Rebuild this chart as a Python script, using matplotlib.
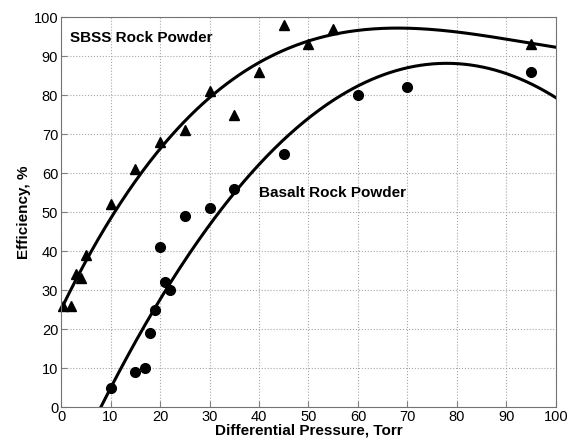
import numpy as np
import matplotlib
matplotlib.use("Agg")
from matplotlib import pyplot as plt

# SBSS rock powder (triangles)
sbss_p = [0.5, 2, 3, 4, 5, 10, 15, 20, 25, 30, 35, 40, 45, 50, 55, 95]
sbss_eff = [26, 26, 34, 33, 39, 52, 61, 68, 71, 81, 75, 86, 98, 93, 97, 93]

# Basalt rock powder (circles)
basalt_p = [10, 15, 17, 18, 19, 20, 21, 22, 25, 30, 35, 45, 60, 70, 95]
basalt_eff = [5, 9, 10, 19, 25, 41, 32, 30, 49, 51, 56, 65, 80, 82, 86]

xticks = np.arange(0, 101, 10)
yticks = np.arange(0, 101, 10)

plt.rcParams['font.family'] = ['Liberation Sans', 'DejaVu Sans']
fig = plt.figure(figsize=(5.74, 4.44), dpi=100)
ax = fig.add_axes([0.1063, 0.0833, 0.8623, 0.8784])

# polynomial trend lines fitted to the measurements
xx = np.linspace(0, 100, 400)
c1 = np.polyfit(sbss_p, sbss_eff, 3)
c2 = np.polyfit(basalt_p, basalt_eff, 2)
ax.plot(xx, np.polyval(c1, xx), 'k-', lw=2.2)
ax.plot(xx, np.polyval(c2, xx), 'k-', lw=2.2)

ax.plot(sbss_p, sbss_eff, 'k^', markersize=7, clip_on=False)
ax.plot(basalt_p, basalt_eff, 'ko', markersize=7, clip_on=False)

ax.text(1.8, 94.5, 'SBSS Rock Powder', fontsize=11, fontweight='bold', va='center')
ax.text(40, 55, 'Basalt Rock Powder', fontsize=11, fontweight='bold', va='center')

ax.set_xlim(0, 100)
ax.set_ylim(0, 100)
ax.set_xticks(xticks)
ax.set_yticks(yticks)
ax.tick_params(direction='in', labelsize=10.5, length=4, color='0.5', pad=2)
ax.grid(True, linestyle=':', color='0.65', lw=0.8)
for s in ax.spines.values():
    s.set_color('0.45')
ax.set_xlabel('Differential Pressure, Torr', fontsize=11, fontweight='bold', labelpad=0)
ax.set_ylabel('Efficiency, %', fontsize=11, fontweight='bold', labelpad=2)

plt.savefig('out.png', dpi=100)
plt.close()
